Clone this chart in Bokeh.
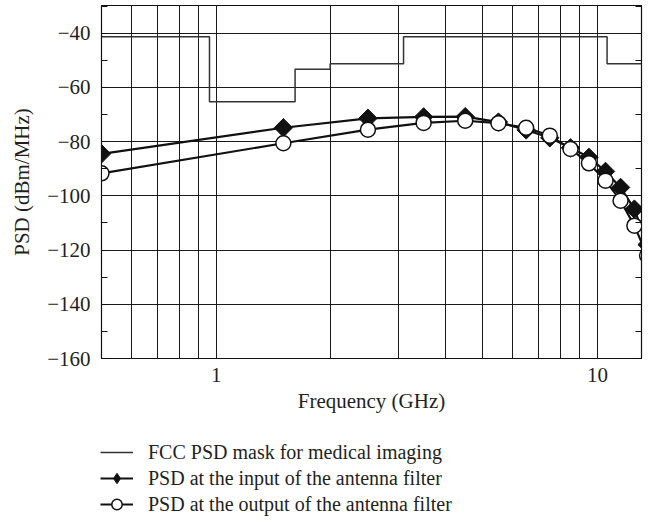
import numpy as np
from bokeh.plotting import figure
from bokeh.layouts import column, row
from bokeh.models import (FixedTicker, CustomJSTickFormatter, LinearAxis, Legend,
                          LegendItem, Range1d, Spacer)
from bokeh.embed import file_html
from bokeh.resources import INLINE

# ---- data ----
freq_ghz = [0.5, 1.5, 2.5, 3.5, 4.5, 5.5, 6.5, 7.5, 8.5, 9.5, 10.5, 11.5, 12.5, 13.5]
psd_input = [-84.5, -74.9, -71.4, -70.9, -70.8, -72.8, -75.7, -78.6, -82.3, -85.8,
             -91.0, -96.9, -104.9, -118.0]
psd_output = [-91.7, -80.6, -75.6, -73.1, -72.3, -73.2, -74.9, -77.8, -82.7, -88.0,
              -94.4, -101.8, -111.0, -122.0]

mask_edges = [0.5, 0.96, 1.61, 1.99, 3.1, 10.6, 13.5]
mask_levels = [-41.3, -65.3, -53.3, -51.3, -41.3, -51.3]

x_major = [1, 10]
x_minor = [0.6, 0.7, 0.8, 0.9, 2, 3, 4, 5, 6, 7, 8, 9]
y_major = [-160, -140, -120, -100, -80, -60, -40]
y_minor = [-150, -130, -110, -90, -70, -50, -40, -30]
y_grid = [-140, -120, -100, -80, -60, -40]

labels = ["FCC PSD mask for medical imaging",
          "PSD at the input of the antenna filter",
          "PSD at the output of the antenna filter"]

# step coordinates for the mask
mx, my = [], []
for i, lev in enumerate(mask_levels):
    mx += [mask_edges[i], mask_edges[i + 1]]
    my += [lev, lev]

FONT = "Liberation Serif"
TXT = "#231f20"
FS = "21px"
DARK = "#111111"

MASK_STYLE = dict(line_color="#333333", line_width=1.5)
LINE_STYLE = dict(line_color=DARK, line_width=2.2)
DIA_STYLE = dict(marker="square", angle=np.pi / 4, size=13, fill_color=DARK,
                 line_color=DARK)
CIR_STYLE = dict(marker="circle", size=15, fill_color="white", line_color=DARK,
                 line_width=1.5)

p = figure(width=648, height=439, x_axis_type="log",
           x_range=Range1d(0.5, 13.05), y_range=Range1d(-160, -29.8),
           output_backend="svg", toolbar_location=None,
           min_border_left=101, min_border_right=7, min_border_top=5,
           min_border_bottom=81)
p.background_fill_color = "white"
p.border_fill_color = "white"
p.outline_line_color = DARK
p.outline_line_width = 1.2

# axes
xt = FixedTicker(ticks=x_major, minor_ticks=x_minor)
yt = FixedTicker(ticks=y_major, minor_ticks=y_minor)
p.xaxis.ticker = xt
p.yaxis.ticker = yt
p.xaxis.formatter = CustomJSTickFormatter(code="return tick.toString();")
p.yaxis.formatter = CustomJSTickFormatter(
    code="return tick < 0 ? '\u2212' + Math.abs(tick) : tick.toString();")

for ax in (p.xaxis, p.yaxis):
    ax.axis_line_color = DARK
    ax.major_label_text_font = FONT
    ax.major_label_text_font_size = FS
    ax.major_label_text_color = TXT
    ax.axis_label_text_font = FONT
    ax.axis_label_text_font_size = FS
    ax.axis_label_text_font_style = "normal"
    ax.axis_label_text_color = TXT
    ax.major_tick_out = 0
    ax.minor_tick_out = 0

p.xaxis.major_tick_in = 0
p.xaxis.minor_tick_in = 0
p.yaxis.major_tick_in = 6
p.yaxis.minor_tick_in = 6
p.yaxis.major_tick_line_color = DARK
p.yaxis.minor_tick_line_color = DARK
p.xaxis.axis_label = "Frequency (GHz)"
p.yaxis.axis_label = "PSD (dBm/MHz)"
p.xaxis.major_label_standoff = 9
p.xaxis.axis_label_standoff = 4
p.yaxis.major_label_standoff = 11
p.yaxis.axis_label_standoff = 10

# right axis with inward ticks, no labels
ra = LinearAxis(ticker=yt, formatter=CustomJSTickFormatter(code="return '';"),
                major_tick_out=0, minor_tick_out=0, major_tick_in=6,
                minor_tick_in=6, axis_line_color=DARK,
                major_tick_line_color=DARK, minor_tick_line_color=DARK,
                major_label_standoff=0)
p.add_layout(ra, "right")

# grids
p.xgrid.ticker = xt
p.ygrid.ticker = FixedTicker(ticks=y_grid)
for g in (p.xgrid, p.ygrid):
    g.grid_line_color = "#1a1a1a"
    g.grid_line_width = 1
p.xgrid.minor_grid_line_color = "#1a1a1a"
p.xgrid.minor_grid_line_width = 1

# data
p.line(mx, my, **MASK_STYLE)
p.line(freq_ghz, psd_input, **LINE_STYLE)
p.scatter(freq_ghz, psd_input, **DIA_STYLE)
p.line(freq_ghz, psd_output, **LINE_STYLE)
p.scatter(freq_ghz, psd_output, **CIR_STYLE)

# ---- legend panel below ----
q = figure(width=548, height=81, x_range=Range1d(0, 1), y_range=Range1d(0, 1),
           output_backend="svg", toolbar_location=None,
           x_axis_location=None, y_axis_location=None,
           min_border_left=0, min_border_right=0, min_border_top=0,
           min_border_bottom=0)
q.outline_line_color = None
q.grid.visible = False
q.background_fill_color = "white"
q.border_fill_color = "white"
# legend-only renderers, their (dummy) point lies outside the visible range
lm = q.line([5, 6], [5, 5], **MASK_STYLE)
li = q.line([5, 6], [5, 5], **LINE_STYLE)
ld = q.scatter([5], [5], marker="diamond", size=13, fill_color=DARK,
               line_color=DARK)
lo = q.line([5, 6], [5, 5], **LINE_STYLE)
lc = q.scatter([5], [5], **CIR_STYLE)

legend = Legend(items=[
    LegendItem(label=labels[0], renderers=[lm]),
    LegendItem(label=labels[1], renderers=[li, ld]),
    LegendItem(label=labels[2], renderers=[lo, lc]),
], location="top_left", padding=0, margin=0, spacing=0,
    glyph_width=33, glyph_height=26, label_height=26, label_standoff=15,
    label_text_font=FONT, label_text_font_size="20px", label_text_color=TXT,
    border_line_color=None, background_fill_alpha=0)
q.add_layout(legend, "center")

layout = column(p, row(Spacer(width=100, height=81), q, spacing=0), spacing=0)
open("out.html", "w").write(file_html(layout, INLINE))
